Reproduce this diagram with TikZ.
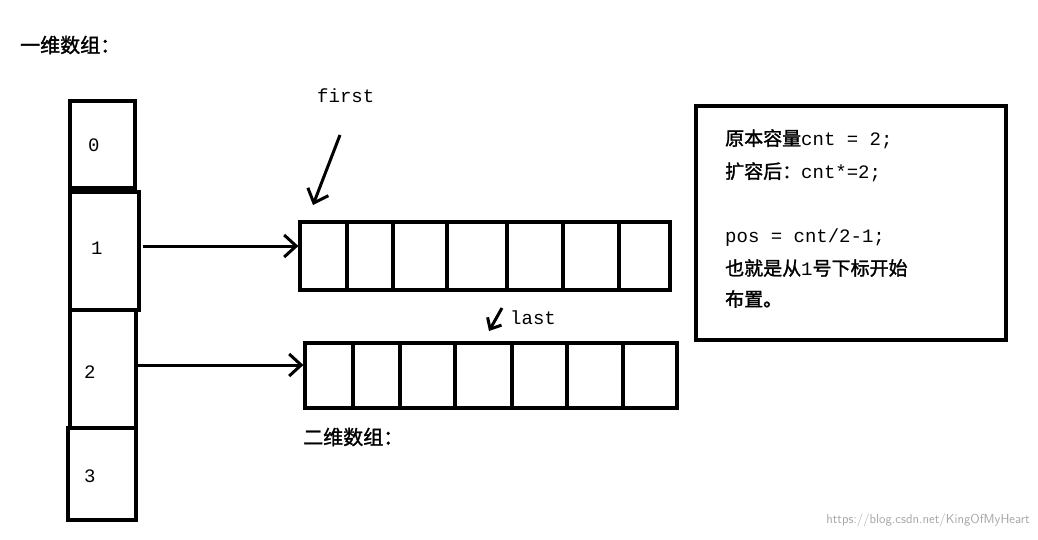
\documentclass[tikz,border=0pt]{standalone}
\usepackage{fontspec}
\setmonofont{Liberation Mono}
\newfontfamily\cjk{Noto Sans CJK SC}[FakeBold=1.5]
\usetikzlibrary{arrows.meta}
\begin{document}
\begin{tikzpicture}[x=1pt,y=-1pt,
  thk/.style={line width=3.2pt},
  arr/.style={line width=3pt,-{Straight Barb[length=12pt,width=22pt,line width=3pt]}},
  lbl/.style={font=\fontsize{19}{22}\selectfont\ttfamily,anchor=west,inner sep=0pt}]
\useasboundingbox[fill=white] (0,0) rectangle (1038,539);
% left column
\node[thk,draw,minimum width=65pt,minimum height=87pt,inner sep=0pt] (c0) at (102.5,144.5) {};
\node[thk,draw,minimum width=69pt,minimum height=118pt,inner sep=0pt] (c1) at (104.5,251) {};
\node[thk,draw,minimum width=66pt,minimum height=118pt,inner sep=0pt] (c2) at (103,369) {};
\node[thk,draw,minimum width=68pt,minimum height=92pt,inner sep=0pt] (c3) at (102,474) {};
\node[lbl] (t0) at (88,145) {0};
\node[lbl] (t1) at (91,248) {1};
\node[lbl] (t2) at (84,372) {2};
\node[lbl] (t3) at (84,476) {3};
% top array
\node[thk,draw,minimum width=370pt,minimum height=68pt,inner sep=0pt] (a1) at (485,256) {};
\foreach \x in {347,393,447,507,563,619} \draw[thk] (\x,222) -- (\x,290);
% bottom array
\node[thk,draw,minimum width=372pt,minimum height=65pt,inner sep=0pt] (a2) at (491,375.5) {};
\foreach \x in {353,400,455,512,567,623} \draw[thk] (\x,343) -- (\x,408);
% arrows
\coordinate (s1) at (143,246);
\coordinate (s2) at (135,365);
\draw[arr] (s1) -- (a1.west |- s1);
\draw[arr] (s2) -- (a2.west |- s2);
\node[lbl] (first) at (317,96) {first};
\coordinate (f0) at (340,135);
\coordinate (f1) at (313,205);
\draw[arr] (f0) -- (f1);
\node[lbl] (last) at (510,318) {last};
\coordinate (l0) at (502,308);
\coordinate (l1) at (489,331);
\draw[line width=3pt,-{Straight Barb[length=9pt,width=16pt,line width=3pt]}] (l0) -- (l1);
\node[lbl,font=\fontsize{20}{22}\selectfont\cjk] (t2d) at (303,437) {二维数组：};
\node[lbl,font=\fontsize{20}{22}\selectfont\cjk] (t1d) at (20,45) {一维数组：};
% text box
\node[thk,draw,minimum width=310pt,minimum height=234pt,inner sep=0pt] (box) at (851,223) {};
\node[lbl] (b1) at (725,139) {{\cjk 原本容量}cnt = 2;};
\node[lbl] (b2) at (725,172) {{\cjk 扩容后：}cnt*=2;};
\node[lbl] (b3) at (725,238) {pos = cnt/2-1;};
\node[lbl] (b4) at (725,268) {{\cjk 也就是从}1{\cjk 号下标开始}};
\node[lbl] (b5) at (725,299) {{\cjk 布置。}};
\node[anchor=east,inner sep=0pt,text=gray!70,font=\fontsize{13}{14}\selectfont\sffamily] (wm) at (1030,520) {https://blog.csdn.net/KingOfMyHeart};
\end{tikzpicture}
\end{document}
